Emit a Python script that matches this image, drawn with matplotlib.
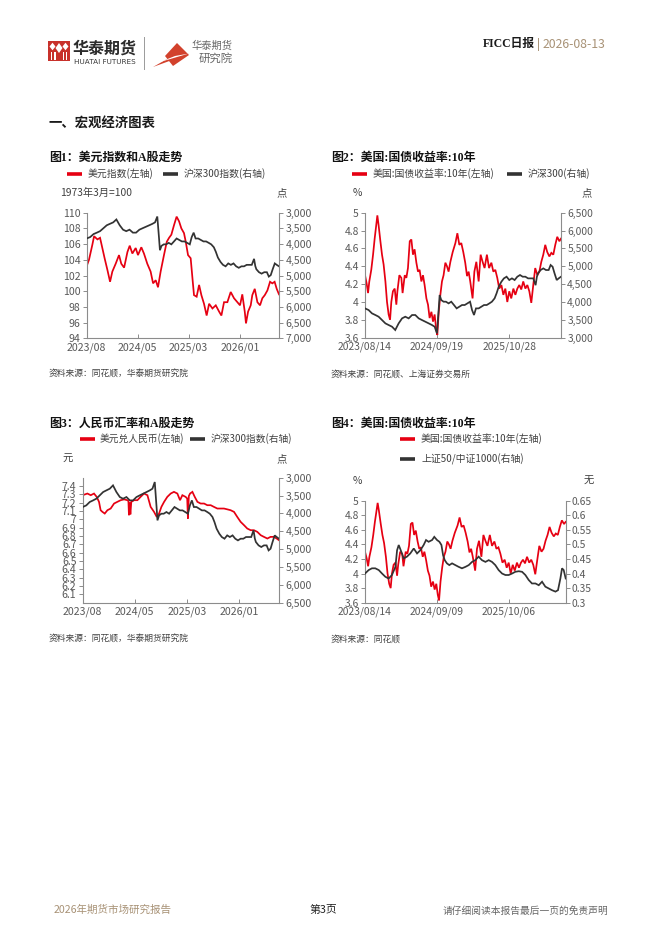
import numpy as np
import pandas as pd
import matplotlib
matplotlib.use('Agg')
import matplotlib.pyplot as plt
from matplotlib.lines import Line2D
from matplotlib.patches import Polygon, Rectangle
from matplotlib.ticker import FuncFormatter, FixedLocator

plt.rcParams['font.family'] = ['Noto Sans CJK SC', 'DejaVu Sans']
plt.rcParams['axes.unicode_minus'] = False

# ---------------- data (days since 2023-08-14) ----------------
START = '2023-08-14'
END = '2026-08-13'

dxy_days = [0,13,32,42,61,76,89,102,118,133,146,165,184,197,213,232,245,260,279,292,
            311,326,345,364,378,393,406,421,440,456,469,482,497,512,526,539,554,564,577,592,
            604,611,626,640,653,668,683,697,716,735,754,767,782,801,820,839,858,873,886,900,
            907,919,934,943,957,972,987,1000,1014,1029,1044,1057,1070,1082,1095]
dxy_vals = [103.2,104.0,105.9,107.0,106.6,106.8,105.5,104.2,102.7,101.2,102.5,103.5,104.6,103.5,103.0,105.0,105.8,104.8,105.5,104.6,
            105.6,104.8,103.5,102.5,101.0,101.4,100.5,102.5,104.6,106.3,106.8,107.2,108.4,109.5,108.9,108.0,107.4,106.3,104.6,104.2,
            101.2,99.5,99.3,100.8,99.5,98.4,96.9,98.4,97.8,98.2,97.4,96.9,98.6,98.6,99.9,99.1,98.6,98.2,99.6,97.4,
            95.9,97.4,98.2,99.5,100.3,98.6,98.2,99.1,99.5,100.1,101.2,101.0,101.2,100.3,99.6]

csi_days = [0,20,39,58,76,95,114,132,151,169,188,207,225,244,263,281,300,318,337,356,
            374,389,402,412,417,426,439,452,467,482,497,512,527,542,557,572,587,598,609,620,
            635,650,665,680,695,709,724,735,747,762,776,791,806,821,836,851,866,881,896,911,
            925,940,953,960,966,981,996,1011,1026,1037,1048,1059,1071,1082,1095]
csi_vals = [3821,3775,3681,3635,3588,3495,3401,3355,3308,3215,3401,3541,3588,3541,3635,3635,3541,3495,3448,3401,
            3355,3308,3121,3821,4195,4055,4008,4008,3961,4008,3915,3821,3868,3915,3915,3961,4008,3775,3635,3821,
            3821,3868,3915,3915,3961,4008,4101,4241,4428,4568,4661,4708,4615,4661,4615,4708,4755,4708,4708,4661,
            4661,4661,4470,4700,4800,4895,4941,4895,4895,5035,4988,4801,4615,4661,4708]

us_days = [0,9,17,24,35,45,54,61,69,76,86,95,104,114,123,132,140,147,156,166,
           175,181,192,203,210,222,231,240,250,259,268,277,287,296,305,315,324,333,343,352,
           361,371,380,389,397,404,412,421,430,439,449,458,467,477,490,505,516,527,538,549,
           560,570,579,588,601,611,622,635,646,657,668,681,693,706,717,728,739,750,762,773,
           784,795,806,817,829,840,851,862,873,884,896,907,918,929,940,951,963,974,985,996,
           1007,1018,1030,1041,1052,1063,1074,1086,1095]
us_vals = [4.30,4.21,4.10,4.23,4.36,4.53,4.71,4.83,4.97,4.86,4.68,4.53,4.42,4.23,4.00,3.86,3.80,4.00,4.12,4.15,
           3.97,4.12,4.30,4.27,4.10,4.30,4.27,4.38,4.68,4.70,4.53,4.59,4.44,4.34,4.36,4.23,4.30,4.19,4.04,3.97,
           3.82,3.89,3.78,3.86,3.71,3.63,3.89,4.08,4.23,4.30,4.44,4.40,4.34,4.45,4.56,4.66,4.77,4.64,4.66,4.56,
           4.44,4.29,4.34,4.23,4.04,4.34,4.45,4.23,4.53,4.45,4.38,4.53,4.38,4.44,4.34,4.36,4.27,4.15,4.19,4.08,
           4.15,4.00,4.12,4.04,4.15,4.08,4.15,4.19,4.14,4.23,4.15,4.19,4.12,3.99,4.19,4.38,4.30,4.34,4.45,4.53,
           4.64,4.56,4.51,4.55,4.53,4.64,4.73,4.68,4.71]

cny_days = [0,26,45,63,78,91,100,110,123,138,156,175,193,212,231,249,255,258,262,266,
            271,286,305,323,342,361,379,398,413,426,439,454,472,491,509,528,543,556,574,583,
            587,592,599,612,625,640,658,677,695,714,732,751,770,788,807,825,844,862,881,900,
            918,937,955,974,993,1011,1030,1048,1067,1082,1095]
cny_vals = [7.29,7.31,7.29,7.31,7.27,7.21,7.11,7.09,7.07,7.11,7.13,7.19,7.21,7.23,7.24,7.23,7.22,7.05,7.20,7.06,
            7.21,7.23,7.23,7.27,7.31,7.29,7.15,7.09,7.03,7.07,7.15,7.21,7.27,7.31,7.33,7.31,7.23,7.29,7.27,7.25,
            7.01,7.28,7.31,7.33,7.27,7.21,7.19,7.19,7.17,7.17,7.15,7.13,7.13,7.13,7.12,7.11,7.09,7.03,6.97,6.93,
            6.89,6.87,6.87,6.85,6.81,6.79,6.77,6.79,6.79,6.77,6.75]

ratio_days = [0,20,38,56,75,93,111,129,147,166,175,184,198,211,229,247,266,284,302,320,
              333,347,366,378,393,406,417,426,435,447,460,475,493,511,529,548,566,584,602,620,
              638,657,675,693,711,729,748,766,784,802,820,839,857,875,893,911,930,948,966,984,
              1002,1020,1039,1053,1066,1075,1084,1095]
ratio_vals = [0.400,0.412,0.418,0.418,0.412,0.400,0.389,0.383,0.395,0.423,0.480,0.498,0.475,0.452,0.458,0.469,0.486,0.469,0.480,0.498,
              0.515,0.509,0.515,0.526,0.515,0.509,0.498,0.463,0.446,0.435,0.429,0.435,0.429,0.423,0.418,0.423,0.429,0.440,0.446,0.458,
              0.446,0.440,0.446,0.440,0.429,0.412,0.400,0.395,0.395,0.400,0.406,0.408,0.406,0.395,0.378,0.366,0.366,0.360,0.372,0.355,
              0.349,0.343,0.338,0.343,0.383,0.418,0.412,0.383]

c1_ticks = ['2023-08-14', '2024-05-30', '2025-03-17', '2026-01-02']
c1_labels = ['2023/08', '2024/05', '2025/03', '2026/01']
c2_ticks = ['2023-08-14', '2024-09-19', '2025-10-28']
c2_labels = ['2023/08/14', '2024/09/19', '2025/10/28']
c4_ticks = ['2023-08-14', '2024-09-09', '2025-10-06']
c4_labels = ['2023/08/14', '2024/09/09', '2025/10/06']

# ---------------- figure ----------------
W, H = 662, 936
fig = plt.figure(figsize=(W / 100, H / 100), dpi=100)
fig.patch.set_facecolor('white')

def fx(x): return x / W
def fy(y): return 1 - y / H

RED = '#E60012'
BLACK = '#333333'
AXC = '#8c8c8c'
TXT = '#404040'
TICKC = '#595959'
TITLE_FAM = ['Liberation Serif', 'Noto Sans CJK SC', 'DejaVu Sans']

def to_dates(days):
    return pd.Timestamp(START) + pd.to_timedelta(np.asarray(days), unit='D')

def fmt_g(v, p): return f'{v:g}'
def fmt_int(v, p): return f'{v:.0f}'
def fmt_comma(v, p): return f'{v:,.0f}'

def chart(box, ld, lv, rd, rv, lylim, lticks, lfmt, rylim, rticks, rfmt, xt, xl, fs=7.5):
    l, t, r, b = box
    ax = fig.add_axes([fx(l), fy(b), (r - l) / W, (b - t) / H])
    ax2 = ax.twinx()
    ax.plot(to_dates(ld), lv, color=RED, lw=1.25, solid_joinstyle='miter')
    ax2.plot(to_dates(rd), rv, color=BLACK, lw=1.25, solid_joinstyle='miter')
    ax.set_xlim(pd.Timestamp(START), pd.Timestamp(END))
    ax.set_ylim(*lylim)
    ax2.set_ylim(*rylim)
    ax.yaxis.set_major_locator(FixedLocator(lticks))
    ax2.yaxis.set_major_locator(FixedLocator(rticks))
    ax.yaxis.set_major_formatter(FuncFormatter(lfmt))
    ax2.yaxis.set_major_formatter(FuncFormatter(rfmt))
    ax.set_xticks(pd.to_datetime(xt))
    ax.set_xticklabels(xl)
    for a in (ax, ax2):
        for s in a.spines.values():
            s.set_visible(False)
            s.set_color(AXC)
            s.set_linewidth(0.8)
        a.set_facecolor('none')
    ax.spines['left'].set_visible(True)
    ax.spines['bottom'].set_visible(True)
    ax2.spines['right'].set_visible(True)
    ax.tick_params(axis='y', direction='out', length=3, width=0.7, color=AXC,
                   labelcolor=TICKC, labelsize=fs, pad=1.5)
    ax2.tick_params(axis='y', direction='out', length=3, width=0.7, color=AXC,
                    labelcolor=TICKC, labelsize=fs, pad=1.5)
    ax.tick_params(axis='x', direction='in', length=3, width=0.7, color=AXC,
                   labelcolor=TICKC, labelsize=fs, pad=3)
    return ax, ax2

def legend_item(x0, y, color, label, fs=7.1, gap=6):
    fig.add_artist(Line2D([fx(x0), fx(x0 + 15)], [fy(y), fy(y)], color=color, lw=2.6,
                          solid_capstyle='butt'))
    fig.text(fx(x0 + 15 + gap), fy(y), label, fontsize=fs, color=TXT, va='center', ha='left')

def ftext(x, y, s, **kw):
    kw.setdefault('va', 'center')
    kw.setdefault('ha', 'left')
    fig.text(fx(x), fy(y), s, **kw)

def poly(pts, color):
    fig.add_artist(Polygon([(fx(a), fy(b)) for a, b in pts], closed=True, color=color,
                           transform=fig.transFigure, lw=0))

# ---------------- header ----------------
LOGO_RED = '#C8312B'
fig.add_artist(Rectangle((fx(48), fy(61)), fx(70) - fx(48), fy(41) - fy(61), color=LOGO_RED,
                         transform=fig.transFigure, lw=0))
for cx, cy in [(52.5, 46.5), (65.5, 46.5)]:
    poly([(cx - 3, cy), (cx, cy - 3.8), (cx + 3, cy), (cx, cy + 3.8)], 'white')
poly([(59, 43), (62.5, 48), (59, 53), (55.5, 48)], 'white')
for xs in [51, 54.5, 62.8, 66.3]:
    fig.add_artist(Rectangle((fx(xs), fy(60)), 1.1 / W, (fy(52) - fy(60)), color='white',
                             transform=fig.transFigure, lw=0))
ftext(73, 48.5, '华泰期货', fontsize=11.5, fontweight='bold', color='#2b2b2b')
ftext(74, 62.5, 'HUATAI FUTURES', fontsize=5.2, color='#3a3a3a', family=['DejaVu Sans'])
fig.add_artist(Line2D([fx(144), fx(144)], [fy(37), fy(69)], color='#9a9a9a', lw=0.7))
poly([(177, 43), (189, 55), (173, 66), (165, 56)], '#D2412C')
poly([(153, 67), (168, 58.5), (189, 53.5), (168, 61.5)], '#D2412C')
poly([(160, 62), (175, 56), (189, 53.5), (172, 58.5)], 'white')
ftext(192, 46, '华泰期货', fontsize=7.4, color='#666666')
ftext(199, 58.5, '研究院', fontsize=8.2, color='#666666')

ftext(483, 44, 'FICC日报', fontsize=8.5, fontweight='bold', color='#1a1a1a', family=TITLE_FAM)
fig.add_artist(Line2D([fx(538), fx(538)], [fy(38), fy(50)], color='#a89276', lw=0.7))
ftext(543, 44, '2026-08-13', fontsize=8.8, color='#A89276')

ftext(48, 124, '一、宏观经济图表', fontsize=9.6, fontweight='bold', color='#1a1a1a')

# ---------------- chart 1 ----------------
ftext(49, 158, '图1：美元指数和A股走势', fontsize=8.6, fontweight='bold', color='#111111', family=TITLE_FAM)
legend_item(67, 174, RED, '美元指数(左轴)')
legend_item(163, 174, BLACK, '沪深300指数(右轴)')
ftext(60, 193, '1973年3月=100', fontsize=7.4, color=TXT)
ftext(277, 193, '点', fontsize=7.4, color=TXT)
chart((86.7, 212.7, 279, 338.3), dxy_days, dxy_vals, csi_days, csi_vals,
      (94, 110), list(range(94, 111, 2)), fmt_int,
      (7000, 3000), list(range(3000, 7001, 500)), fmt_comma,
      c1_ticks, c1_labels, fs=7.6)
ftext(49, 374, '资料来源：同花顺，华泰期货研究院', fontsize=6.3, color=TXT, style='italic')

# ---------------- chart 2 ----------------
ftext(331, 158, '图2：美国:国债收益率:10年', fontsize=8.6, fontweight='bold', color='#111111', family=TITLE_FAM)
legend_item(352, 174, RED, '美国:国债收益率:10年(左轴)')
legend_item(507, 174, BLACK, '沪深300(右轴)')
ftext(353, 193, '%', fontsize=7.4, color=TXT)
ftext(582, 193, '点', fontsize=7.4, color=TXT)
chart((365, 212.7, 561, 337.7), us_days, us_vals, csi_days, csi_vals,
      (3.6, 5.0), [3.6, 3.8, 4.0, 4.2, 4.4, 4.6, 4.8, 5.0], fmt_g,
      (3000, 6500), list(range(3000, 6501, 500)), fmt_comma,
      c2_ticks, c2_labels, fs=7.4)
ftext(331, 374, '资料来源：同花顺、上海证券交易所', fontsize=6.3, color=TXT, style='italic')

# ---------------- chart 3 ----------------
ftext(49, 424, '图3：人民币汇率和A股走势', fontsize=8.6, fontweight='bold', color='#111111', family=TITLE_FAM)
legend_item(80, 439, RED, '美元兑人民币(左轴)', fs=7.0, gap=5)
legend_item(190, 439, BLACK, '沪深300指数(右轴)', fs=7.0, gap=6)
ftext(62, 459, '元', fontsize=7.4, color=TXT)
ftext(277, 459, '点', fontsize=7.4, color=TXT)
chart((82.7, 477.7, 279, 602.7), cny_days, cny_vals, csi_days, csi_vals,
      (6.0, 7.5), [round(6.1 + 0.1 * i, 1) for i in range(14)], fmt_g,
      (6500, 3000), list(range(3000, 6501, 500)), fmt_comma,
      c1_ticks, c1_labels, fs=7.6)
ftext(49, 639, '资料来源：同花顺，华泰期货研究院', fontsize=6.3, color=TXT, style='italic')

# ---------------- chart 4 ----------------
ftext(331, 424, '图4：美国:国债收益率:10年', fontsize=8.6, fontweight='bold', color='#111111', family=TITLE_FAM)
legend_item(400, 439, RED, '美国:国债收益率:10年(左轴)')
legend_item(400, 459, BLACK, '上证50/中证1000(右轴)')
ftext(353, 481, '%', fontsize=7.4, color=TXT)
ftext(584, 481, '无', fontsize=7.4, color=TXT)
chart((365, 500.7, 565.7, 602.7), us_days, us_vals, ratio_days, ratio_vals,
      (3.6, 5.0), [3.6, 3.8, 4.0, 4.2, 4.4, 4.6, 4.8, 5.0], fmt_g,
      (0.3, 0.65), [0.3, 0.35, 0.4, 0.45, 0.5, 0.55, 0.6, 0.65], fmt_g,
      c4_ticks, c4_labels, fs=7.4)
ftext(331, 639, '资料来源：同花顺', fontsize=6.3, color=TXT, style='italic')

# ---------------- footer ----------------
ftext(54, 910, '2026年期货市场研究报告', fontsize=7.6, color='#A89276')
ftext(309, 910, '第3页', fontsize=7.8, color='#222222')
ftext(443, 911, '请仔细阅读本报告最后一页的免责声明', fontsize=7.0, color='#666666')

fig.savefig('out.png', dpi=100, facecolor='white')
